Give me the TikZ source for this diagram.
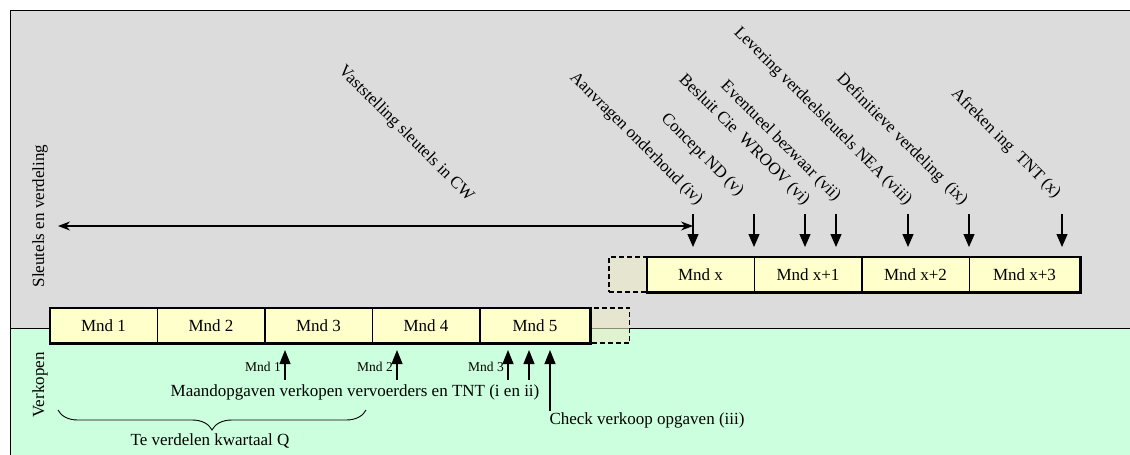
\documentclass[tikz,border=0pt]{standalone}
\usepackage{fontspec}
\setmainfont{Liberation Serif}
\usetikzlibrary{arrows.meta,decorations.pathreplacing}

\definecolor{keygray}{RGB}{220,220,220}
\definecolor{salesgreen}{RGB}{204,255,221}
\definecolor{monthfill}{RGB}{255,255,204}
\definecolor{sparefill}{RGB}{236,236,200}

\tikzset{
  every node/.style={font=\fontsize{17}{20}\selectfont},
  month/.style={draw, line width=0.8pt, fill=monthfill, minimum height=35pt, inner sep=0pt},
  spare/.style={draw, dash pattern=on 5pt off 3pt, line width=1.2pt, fill=sparefill, fill opacity=0.6, text opacity=1, minimum width=38pt, minimum height=35pt},
  event/.style={rotate=-45, anchor=east, inner sep=0pt},
  small/.style={font=\fontsize{13.5}{16}\selectfont, inner sep=0pt},
  down/.style={-{Triangle[width=11pt,length=13pt]}, line width=1.2pt},
  up/.style={-{Triangle[width=11pt,length=14pt]}, line width=1.2pt},
  thickline/.style={line width=2.2pt}
}

\begin{document}
\begin{tikzpicture}[x=1pt,y=-1pt]
    \useasboundingbox (0,0) rectangle (1130,455);
    \pgfmathsetmacro{\ytop}{274.5}
    \pgfmathsetmacro{\ybot}{325.5}

    % two bands
    \fill[keygray] (10,10) rectangle (1130,328);
    \fill[salesgreen] (10,328) rectangle (1130,455);
    \draw[line width=0.8pt] (10,455) -- (10,10) -- (1130,10);
    \draw[line width=0.8pt] (10,328) -- (1130,328);

    % band labels
    \node[rotate=90] (keys) at (40,216) {Sleutels en verdeling};
    \node[rotate=90] (sales) at (40,385) {Verkopen};

    % months of the quarter
    \foreach \l/\r/\t [count=\i] in {50/157/Mnd 1,157/265/Mnd 2,265/372/Mnd 3,372/480/Mnd 4,480/590/Mnd 5}
        \node[month, minimum width=\r-\l] (m\i) at ({(\l+\r)/2},\ybot) {\t};
    \node[spare] (m6) at (610.5,\ybot) {};
    \draw[thickline] (m1.north west) rectangle (m5.south east);
    \draw[thickline] (m3.north west) -- (m3.south west);
    \draw[thickline] (m5.north west) -- (m5.south west);

    % months of the keys
    \foreach \l/\r/\t [count=\i] in {647/754/Mnd x,754/862/Mnd x+1,862/969/Mnd x+2,969/1080/Mnd x+3}
        \node[month, minimum width=\r-\l] (k\i) at ({(\l+\r)/2},\ytop) {\t};
    \node[spare] (k0) at (628,\ytop) {};
    \draw[thickline] (k1.north west) rectangle (k4.south east);
    \draw[thickline] (k3.north west) -- (k3.south west);

    % events above
    \foreach \x in {693,754,805,836,908,969,1062}
        \draw[down] (\x,214) -- (\x,247);
    \draw[{Stealth[width=9pt,length=12pt]}-{Stealth[width=9pt,length=12pt]}, line width=1.2pt] (58,226) -- (693,226);

    \node[event] (e0) at (471,199) {Vaststelling sleutels in CW};
    \node[event] (e4) at (700,203) {Aanvragen onderhoud (iv)};
    \node[event] (e5) at (741,194) {Concept ND (v)};
    \node[event] (e6) at (807,203) {Besluit Cie\ \ WROOV (vi)};
    \node[event] (e7) at (838,199) {Eventueel bezwaar (vii)};
    \node[event] (e8) at (909,203) {Levering verdeelsleutels NEA (viii)};
    \node[event] (e9) at (965,203) {Definitieve verdeling\ \ (ix)};
    \node[event] (e10) at (1058,196) {Afreken ing\ \ TNT (x)};

    % sales reports below
    \foreach \x/\y in {285/380,397/380,508/380,529/380,550/411}
        \draw[up] (\x,\y) -- (\x,350);
    \node[small, anchor=east] (r1) at (281,367) {Mnd 1};
    \node[small, anchor=east] (r2) at (393,367) {Mnd 2};
    \node[small, anchor=east] (r3) at (504,367) {Mnd 3};
    \node (reports) at (355,392) {Maandopgaven verkopen vervoerders en TNT (i en ii)};
    \node[anchor=west] (check) at (546,420) {Check verkoop opgaven (iii)};

    % quarter
    \draw[decorate, decoration={brace, mirror, amplitude=20pt}, line width=0.9pt] (58,410) -- (366,410);
    \node (quarter) at (210,441) {Te verdelen kwartaal Q};
\end{tikzpicture}
\end{document}
